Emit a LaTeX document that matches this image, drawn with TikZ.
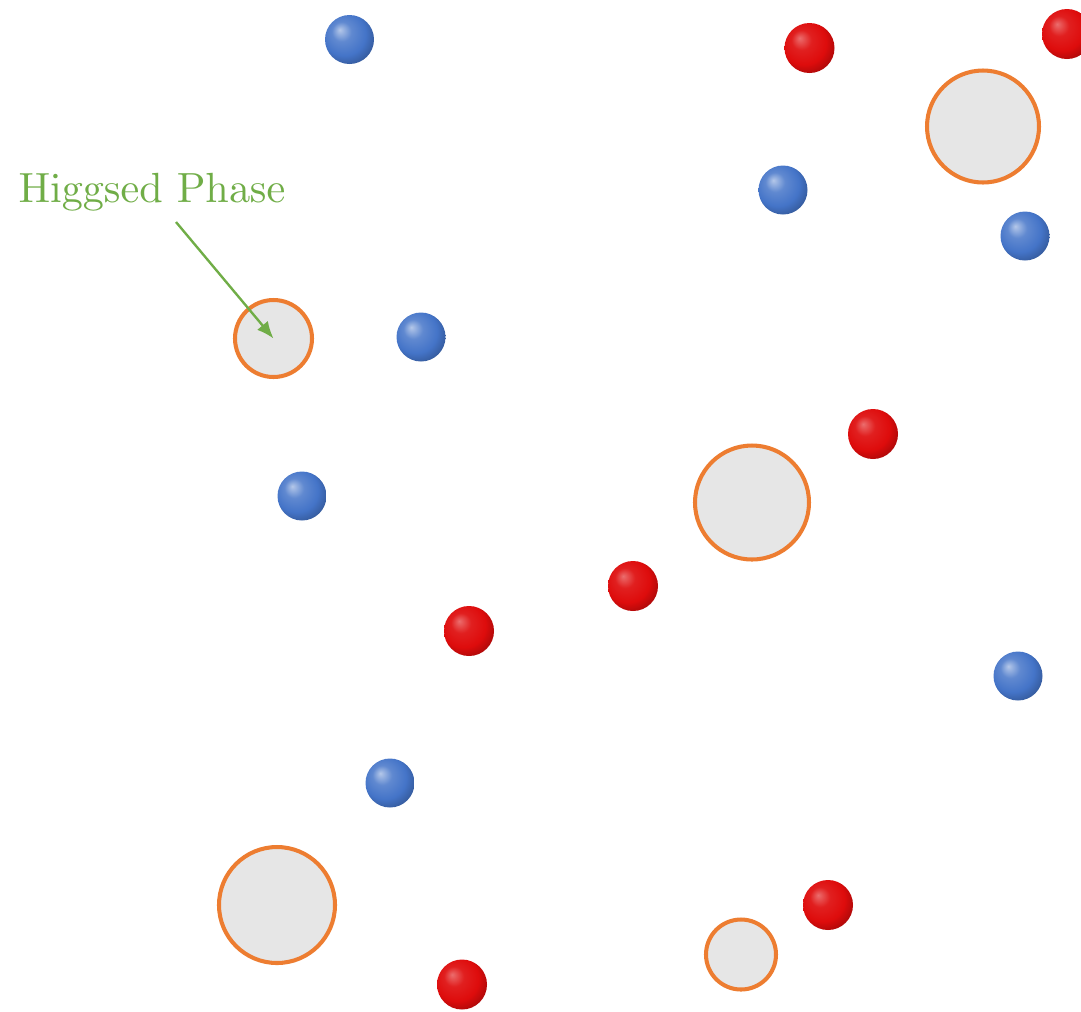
\documentclass[tikz,border=0pt]{standalone}
\usepackage{tikz}
\usetikzlibrary{positioning, arrows.meta, calc}
\definecolor{ballblue}{RGB}{68, 116, 200}
\definecolor{ballred}{RGB}{222, 12, 12}
\definecolor{higgsorange}{RGB}{237, 125, 49}
\definecolor{higgsgray}{RGB}{230, 230, 230}
\definecolor{labelgreen}{RGB}{112, 173, 71}
\font\higgsfont=cmr10 at 24pt
\pgfdeclareradialshading{blueshade}{\pgfpoint{-10bp}{10bp}}{%
  color(0bp)=(ballblue!40!white); color(10bp)=(ballblue!85!white);
  color(22bp)=(ballblue); color(34bp)=(ballblue!70!black);
  color(50bp)=(ballblue!35!black)}
\pgfdeclareradialshading{redshade}{\pgfpoint{-10bp}{10bp}}{%
  color(0bp)=(ballred!60!white); color(10bp)=(ballred!92!white);
  color(22bp)=(ballred); color(34bp)=(ballred!70!black);
  color(50bp)=(ballred!35!black)}

\begin{document}
\begin{tikzpicture}[
    >=Stealth,
    blueball/.style={circle, inner sep=0pt, minimum size=0.98cm, shade, shading=blueshade},
    redball/.style={circle, inner sep=0pt, minimum size=1.0cm, shade, shading=redshade},
    higgs/.style={circle, inner sep=0pt, draw=higgsorange, fill=higgsgray, line width=2.3pt},
    arrow/.style={-{Latex[length=0.34cm, width=0.28cm]}, line width=1.35pt, labelgreen},
    phaselabel/.style={font=\higgsfont, text=labelgreen, inner sep=0pt},
]

% ===== 画布 =====
\useasboundingbox (0,0) rectangle (21.62,-20.22);
\clip (0,0) rectangle (21.62,-20.22);

% ===== Higgsed 区域 =====
\node[higgs, minimum size=2.24cm] (h1) at (19.66,-2.53) {};
\node[higgs, minimum size=1.54cm] (h2) at (5.47,-6.77) {};
\node[higgs, minimum size=2.28cm] (h3) at (15.04,-10.05) {};
\node[higgs, minimum size=2.32cm] (h4) at (5.54,-18.10) {};
\node[higgs, minimum size=1.40cm] (h5) at (14.82,-19.09) {};

% ===== 蓝色粒子 =====
\node[blueball] (b1) at (6.99,-0.79) {};
\node[blueball] (b2) at (15.66,-3.80) {};
\node[blueball] (b3) at (20.50,-4.72) {};
\node[blueball] (b4) at (8.42,-6.74) {};
\node[blueball] (b5) at (6.04,-9.92) {};
\node[blueball] (b6) at (20.36,-13.52) {};
\node[blueball] (b7) at (7.80,-15.66) {};

% ===== 红色粒子 =====
\node[redball] (r1) at (16.19,-0.96) {};
\node[redball] (r2) at (21.34,-0.68) {};
\node[redball] (r3) at (17.46,-8.68) {};
\node[redball] (r4) at (12.66,-11.72) {};
\node[redball] (r5) at (9.38,-12.62) {};
\node[redball] (r6) at (16.56,-18.10) {};
\node[redball] (r7) at (9.24,-19.69) {};

% ===== 标注 =====
\node[phaselabel, anchor=base] (higgslabel) at (3.04,-4.04) {Higgsed Phase};
\coordinate (labeltail) at (3.52,-4.44);
\draw[arrow] (labeltail) -- (h2.center);

\end{tikzpicture}
\end{document}
